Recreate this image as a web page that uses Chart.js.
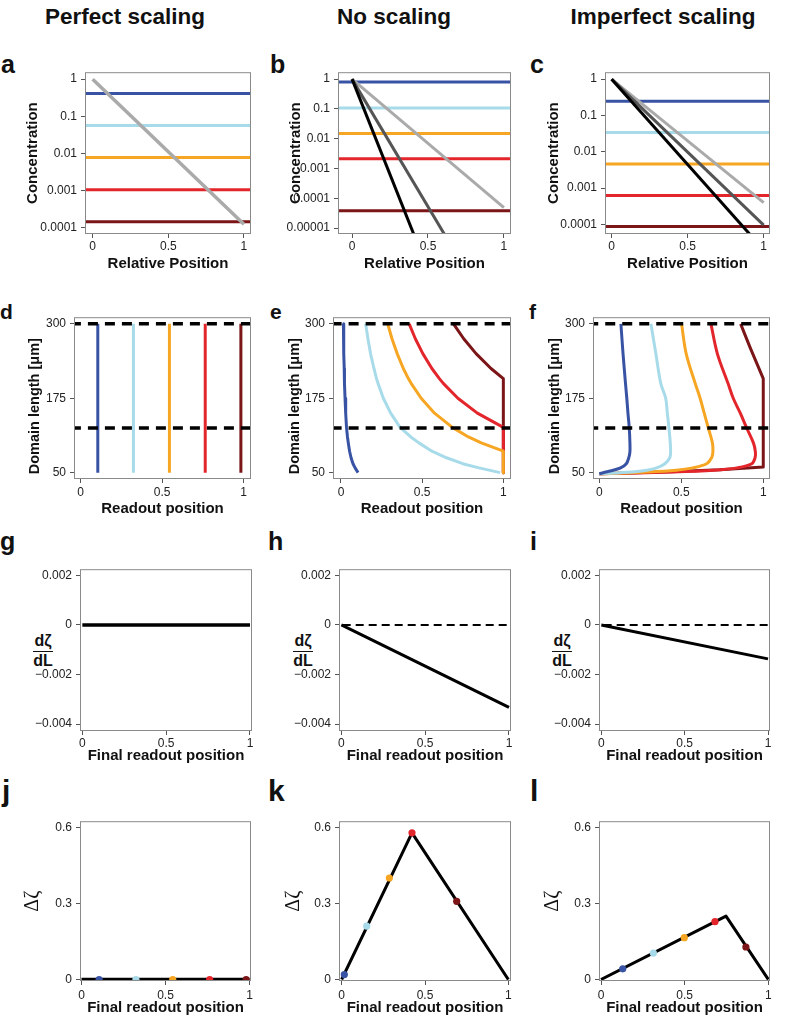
<!DOCTYPE html>
<html lang="en">
<head>
<meta charset="utf-8" />
<script src="https://cdn.jsdelivr.net/npm/chart.js@4.4.1/dist/chart.umd.min.js"></script>
<title>Perfect, no and imperfect scaling</title>
<style>
  body { margin: 0; width: 788px; height: 1019px; position: relative; background: #fff; overflow: hidden;
         font-family: "Liberation Sans", Arial, Helvetica, sans-serif; color: #111; }
  canvas { position: absolute; }
  .hdr { position: absolute; top: 4px; width: 260px; text-align: center; font-weight: bold; font-size: 22.5px; line-height: 26px; }
  .let { position: absolute; font-weight: bold; line-height: 1; }
  .frac { position: absolute; width: 30px; text-align: center; font-weight: bold; font-size: 16px; line-height: 18px; }
  .frac .bar { width: 20px; margin: 1px auto 0 auto; border-top: 1.5px solid #111; }
</style>
</head>
<body>
<div class="hdr" style="left:-5px">Perfect scaling</div>
<div class="hdr" style="left:264px">No scaling</div>
<div class="hdr" style="left:533px">Imperfect scaling</div>

<div class="let" style="left:1px;top:52px;font-size:25px">a</div>
<div class="let" style="left:270px;top:52px;font-size:25px">b</div>
<div class="let" style="left:530px;top:52px;font-size:25px">c</div>
<div class="let" style="left:0px;top:301px;font-size:21px">d</div>
<div class="let" style="left:270px;top:301px;font-size:21px">e</div>
<div class="let" style="left:529px;top:301px;font-size:21px">f</div>
<div class="let" style="left:0px;top:529px;font-size:25px">g</div>
<div class="let" style="left:268px;top:529px;font-size:25px">h</div>
<div class="let" style="left:530px;top:529px;font-size:25px">i</div>
<div class="let" style="left:2px;top:776px;font-size:30px">j</div>
<div class="let" style="left:268px;top:776px;font-size:30px">k</div>
<div class="let" style="left:530px;top:776px;font-size:30px">l</div>

<div class="frac" style="left:28px;top:632px">dζ<div class="bar"></div>dL</div>
<div class="frac" style="left:288px;top:632px">dζ<div class="bar"></div>dL</div>
<div class="frac" style="left:547px;top:632px">dζ<div class="bar"></div>dL</div>

<script>
// ---- data ----
// a-c: concentration profiles against relative position (log y)
var relPos = [0, 1];
var thresholdSpan = [-1, 2];
var aThresholds = [0.41, 0.056, 0.0077, 0.00103, 0.00014];
var aGreyY = [1, 0.00012];
var bThresholds = [0.8, 0.108, 0.015, 0.0021, 0.000038];
var bGreyY = [1, 0.000048];
var bDarkX = [0, 0.65], bDarkY = [1, 0.0000027];
var bBlackX = [0, 0.45], bBlackY = [1, 0.0000017];
var cThresholds = [0.245, 0.034, 0.0046, 0.00063, 0.000087];
var cGreyY = [1, 0.0004];
var cDarkY = [1, 0.000096];
var cBlackY = [1, 0.00002];
var concTicks = [1, 0.1, 0.01, 0.001, 0.0001];
var concLabels = ["1", "0.1", "0.01", "0.001", "0.0001"];
var concTicksB = [1, 0.1, 0.01, 0.001, 0.0001, 0.00001];
var concLabelsB = ["1", "0.1", "0.01", "0.001", "0.0001", "0.00001"];

// d-f: readout position against domain length
var dPos = [0.105, 0.324, 0.545, 0.765, 0.984];
var domainSpan = [50, 300];
var dashedL = [300, 125];
var eL = [300, 275, 250, 225, 208, 200, 175, 150, 126, 110, 100, 86, 75, 65, 58, 50];
var eBlue = [0.015, 0.016, 0.018, 0.02, 0.021, 0.022, 0.025, 0.029, 0.034, 0.04, 0.045, 0.053, 0.062, 0.074, 0.087, 0.105];
var eLightBlue = [0.152, 0.166, 0.182, 0.203, 0.219, 0.228, 0.261, 0.306, 0.364, 0.43, 0.48, 0.56, 0.65, 0.75, 0.85, 0.98];
var eOrange = [0.288, 0.314, 0.346, 0.384, 0.415, 0.432, 0.494, 0.576, 0.686, 0.785, 0.864, 1, 1, 1, 1, 1];
var eRed = [0.42, 0.458, 0.504, 0.56, 0.606, 0.63, 0.72, 0.84, 1, 1, 1, 1, 1, 1, 1, 1];
var eDarkRed = [0.693, 0.756, 0.832, 0.924, 1, 1, 1, 1, 1, 1, 1, 1, 1, 1, 1, 1];
var fL = [300, 250, 200, 175, 150, 125, 100, 85, 75, 65, 58, 54, 51, 48];
var fBlue = [0.132, 0.145, 0.16, 0.168, 0.175, 0.183, 0.187, 0.187, 0.18, 0.165, 0.13, 0.085, 0.04, 0];
var fLightBlue = [0.315, 0.345, 0.375, 0.405, 0.415, 0.425, 0.433, 0.435, 0.43, 0.4, 0.35, 0.29, 0.2, 0];
var fOrange = [0.502, 0.53, 0.585, 0.615, 0.64, 0.665, 0.69, 0.693, 0.685, 0.655, 0.57, 0.47, 0.3, 0];
var fRed = [0.681, 0.72, 0.785, 0.817, 0.86, 0.899, 0.94, 0.952, 0.95, 0.93, 0.84, 0.7, 0.45, 0];
var fDarkL = [300, 260, 208, 59.5, 55, 51.7, 49, 48];
var fDarkRed = [0.862, 0.92, 1, 1, 0.735, 0.43, 0.12, 0];
var lengthTicks = [50, 175, 300];
var lengthLabels = ["50", "175", "300"];

// g-i: dζ/dL against final readout position
var finalPos = [0, 1];
var gSlope = [0, 0];
var hSlope = [0, -0.00333];
var iSlope = [0, -0.00137];
var zeroLine = [0, 0];
var slopeTicks = [0.002, 0, -0.002, -0.004];
var slopeLabels = ["0.002", "0", "\u22120.002", "\u22120.004"];

// j-l: Δζ against final readout position
var jLineX = [0, 1], jLineY = [0, 0];
var jDotX = [0.105, 0.324, 0.543, 0.763, 0.98], jDotY = [0, 0, 0, 0, 0];
var kLineX = [0, 0.422, 1], kLineY = [0, 0.578, 0];
var kDotX = [0.016, 0.15, 0.286, 0.422, 0.69], kDotY = [0.0195, 0.21, 0.40, 0.578, 0.308];
var lLineX = [0, 0.747, 1], lLineY = [0, 0.25, 0];
var lDotX = [0.13, 0.313, 0.498, 0.681, 0.866], lDotY = [0.042, 0.104, 0.165, 0.228, 0.128];
var shiftTicks = [0, 0.3, 0.6];
var shiftLabels = ["0", "0.3", "0.6"];

var posTicks = [0, 0.5, 1];
var posLabels = ["0", "0.5", "1"];

// ---- drawing ----
var FONT = '"Liberation Sans", Arial, Helvetica, sans-serif';
var COLS = ["#3953a4", "#a8dbe9", "#f6a623", "#e3262b", "#7b1517"];
var colLeft = [0, 262, 522];

function ln(xs, ys, color, width, dash, tension) {
    return {
        data: xs.map(function (x, i) { return { x: x, y: ys[i] }; }),
        borderColor: color, borderWidth: width, borderDash: dash || [], tension: tension || 0,
        showLine: true, pointRadius: 0, borderCapStyle: "butt", borderJoinStyle: "round"
    };
}
function dots(xs, ys) {
    return {
        data: xs.map(function (x, i) { return { x: x, y: ys[i] }; }),
        showLine: false, pointRadius: 3.6,
        pointBackgroundColor: COLS, pointBorderColor: COLS, pointBorderWidth: 0
    };
}
function hlines(values) {
    return values.map(function (v, i) { return ln(thresholdSpan, [v, v], COLS[i], 3); });
}

var boxPlugin = {
    id: "box",
    afterDraw: function (c) {
        var a = c.chartArea, ctx = c.ctx;
        ctx.save();
        ctx.strokeStyle = "#8a8a8a";
        ctx.lineWidth = 1;
        ctx.strokeRect(a.left - 0.5, a.top - 0.5, a.right - a.left + 1, a.bottom - a.top + 1);
        ctx.restore();
    }
};

function axis(o) {
    return {
        type: o.type || "linear", min: o.min, max: o.max,
        afterFit: function (s) { if (s.isHorizontal()) s.height = o.size; else s.width = o.size; },
        afterBuildTicks: function (s) { s.ticks = o.ticks.map(function (v) { return { value: v }; }); },
        grid: { drawOnChartArea: false, drawTicks: true, tickLength: 5, color: "#555", lineWidth: 1 },
        border: { display: false },
        ticks: {
            autoSkip: false, maxRotation: 0, minRotation: 0, padding: o.pad, color: "#222",
            font: { family: FONT, size: 12 },
            callback: function (v, i) { return o.labels[i]; }
        },
        title: o.title ? {
            display: true, text: o.title, color: "#111",
            font: o.titleFont || { family: FONT, size: 15, weight: "bold" },
            padding: { top: o.tpad, bottom: 0 }
        } : { display: false }
    };
}

function panel(p) {
    var left = colLeft[p.col];
    var cv = document.createElement("canvas");
    cv.width = p.R + 10 - left;
    cv.height = 10 + p.B - p.T + p.xh;
    cv.style.left = left + "px";
    cv.style.top = (p.T - 10) + "px";
    document.body.appendChild(cv);
    new Chart(cv, {
        type: "scatter",
        data: { datasets: p.datasets },
        options: {
            responsive: false, animation: false, events: [],
            layout: { padding: { left: 0, top: 10, right: 10, bottom: 0 } },
            plugins: { legend: { display: false }, tooltip: { enabled: false } },
            scales: {
                x: axis({ min: p.xMin, max: p.xMax, size: p.xh, ticks: posTicks, labels: posLabels,
                          pad: p.xpad, title: p.xTitle, tpad: 0 }),
                y: axis({ type: p.yType, min: p.yMin, max: p.yMax, size: p.L - left, ticks: p.yTicks,
                          labels: p.yLabels, pad: 4, title: p.yTitle, tpad: p.ytpad, titleFont: p.yFont })
            }
        },
        plugins: [boxPlugin]
    });
}

var deltaFont = { family: '"Liberation Serif", "DejaVu Serif", serif', size: 20, weight: "normal" };
var domainFont = { family: FONT, size: 14.5, weight: "bold" };
// trailing spaces push the rotated label down a little, as in the original
var domainTitle = "Domain length [μm]" + "\u00a0".repeat(4);

// row 1
panel({ col: 0, L: 86, T: 72, R: 250, B: 233, xh: 40, xpad: 1, xMin: -0.044, xMax: 1.04,
    yType: "logarithmic", yMin: 0.000074, yMax: 1.45, yTicks: concTicks, yLabels: concLabels,
    xTitle: "Relative Position", yTitle: "Concentration", ytpad: 24,
    datasets: [ln(relPos, aGreyY, "#aaaaaa", 3.5)].concat(hlines(aThresholds)) });
panel({ col: 1, L: 339, T: 72, R: 510, B: 233, xh: 40, xpad: 1, xMin: -0.086, xMax: 1.04,
    yType: "logarithmic", yMin: 0.0000068, yMax: 1.58, yTicks: concTicksB, yLabels: concLabelsB,
    xTitle: "Relative Position", yTitle: "Concentration", ytpad: 24.8,
    datasets: [ln(bBlackX, bBlackY, "#000", 3), ln(bDarkX, bDarkY, "#555", 3), ln(relPos, bGreyY, "#aaaaaa", 3)]
        .concat(hlines(bThresholds)) });
panel({ col: 2, L: 606, T: 72, R: 769, B: 233, xh: 40, xpad: 1, xMin: -0.037, xMax: 1.035,
    yType: "logarithmic", yMin: 0.000058, yMax: 1.46, yTicks: concTicks, yLabels: concLabels,
    xTitle: "Relative Position", yTitle: "Concentration", ytpad: 23,
    datasets: [ln(relPos, cBlackY, "#000", 3), ln(relPos, cDarkY, "#555", 3), ln(relPos, cGreyY, "#aaaaaa", 3)]
        .concat(hlines(cThresholds)) });

// row 2
function dashes() {
    return dashedL.map(function (v) { return ln(thresholdSpan, [v, v], "#000", 3.5, [10, 7]); });
}
panel({ col: 0, L: 75, T: 317, R: 250, B: 478, xh: 40, xpad: 2, xMin: -0.035, xMax: 1.04,
    yMin: 41, yMax: 309.5, yTicks: lengthTicks, yLabels: lengthLabels,
    xTitle: "Readout position", yTitle: domainTitle, yFont: domainFont, ytpad: 26,
    datasets: dashes().concat(dPos.map(function (x, i) { return ln([x, x], domainSpan, COLS[i], 3); })) });
panel({ col: 1, L: 334, T: 317, R: 510, B: 478, xh: 40, xpad: 2, xMin: -0.043, xMax: 1.041,
    yMin: 41, yMax: 309.5, yTicks: lengthTicks, yLabels: lengthLabels,
    xTitle: "Readout position", yTitle: domainTitle, yFont: domainFont, ytpad: 24,
    datasets: dashes().concat([eBlue, eLightBlue, eOrange, eRed, eDarkRed].map(function (xs, i) {
        return ln(xs, eL, COLS[i], 3); })) });
panel({ col: 2, L: 594, T: 317, R: 769, B: 478, xh: 40, xpad: 2, xMin: -0.032, xMax: 1.035,
    yMin: 41, yMax: 309.5, yTicks: lengthTicks, yLabels: lengthLabels,
    xTitle: "Readout position", yTitle: domainTitle, yFont: domainFont, ytpad: 24,
    datasets: dashes().concat([fBlue, fLightBlue, fOrange, fRed].map(function (xs, i) {
        return ln(xs, fL, COLS[i], 3, null, 0.35); })).concat([ln(fDarkRed, fDarkL, COLS[4], 3)]) });

// row 3
panel({ col: 0, L: 81, T: 569, R: 251, B: 730, xh: 35, xpad: 1, xMin: -0.008, xMax: 1.006,
    yMin: -0.00424, yMax: 0.00221, yTicks: slopeTicks, yLabels: slopeLabels,
    xTitle: "Final readout position",
    datasets: [ln(finalPos, gSlope, "#000", 3.5)] });
panel({ col: 1, L: 340, T: 569, R: 510, B: 730, xh: 35, xpad: 1, xMin: -0.008, xMax: 1.006,
    yMin: -0.00424, yMax: 0.00221, yTicks: slopeTicks, yLabels: slopeLabels,
    xTitle: "Final readout position",
    datasets: [ln(finalPos, hSlope, "#000", 3), ln(thresholdSpan, zeroLine, "#000", 2, [8, 5])] });
panel({ col: 2, L: 600, T: 569, R: 769, B: 730, xh: 35, xpad: 1, xMin: -0.008, xMax: 1.006,
    yMin: -0.00424, yMax: 0.00221, yTicks: slopeTicks, yLabels: slopeLabels,
    xTitle: "Final readout position",
    datasets: [ln(finalPos, iSlope, "#000", 3), ln(thresholdSpan, zeroLine, "#000", 2, [8, 5])] });

// row 4
panel({ col: 0, L: 81, T: 821, R: 250, B: 980, xh: 37, xpad: 3, xMin: -0.003, xMax: 1.003,
    yMin: -0.002, yMax: 0.62, yTicks: shiftTicks, yLabels: shiftLabels,
    xTitle: "Final readout position", yTitle: "Δζ", yFont: deltaFont, ytpad: 21,
    datasets: [dots(jDotX, jDotY), ln(jLineX, jLineY, "#000", 3.5)] });
panel({ col: 1, L: 340, T: 821, R: 510, B: 980, xh: 37, xpad: 3, xMin: -0.01, xMax: 1.01,
    yMin: -0.002, yMax: 0.62, yTicks: shiftTicks, yLabels: shiftLabels,
    xTitle: "Final readout position", yTitle: "Δζ", yFont: deltaFont, ytpad: 19.3,
    datasets: [dots(kDotX, kDotY), ln(kLineX, kLineY, "#000", 3)] });
panel({ col: 2, L: 600, T: 821, R: 769, B: 980, xh: 37, xpad: 3, xMin: -0.006, xMax: 1.004,
    yMin: -0.002, yMax: 0.62, yTicks: shiftTicks, yLabels: shiftLabels,
    xTitle: "Final readout position", yTitle: "Δζ", yFont: deltaFont, ytpad: 18.5,
    datasets: [dots(lDotX, lDotY), ln(lLineX, lLineY, "#000", 3)] });
</script>
</body>
</html>
